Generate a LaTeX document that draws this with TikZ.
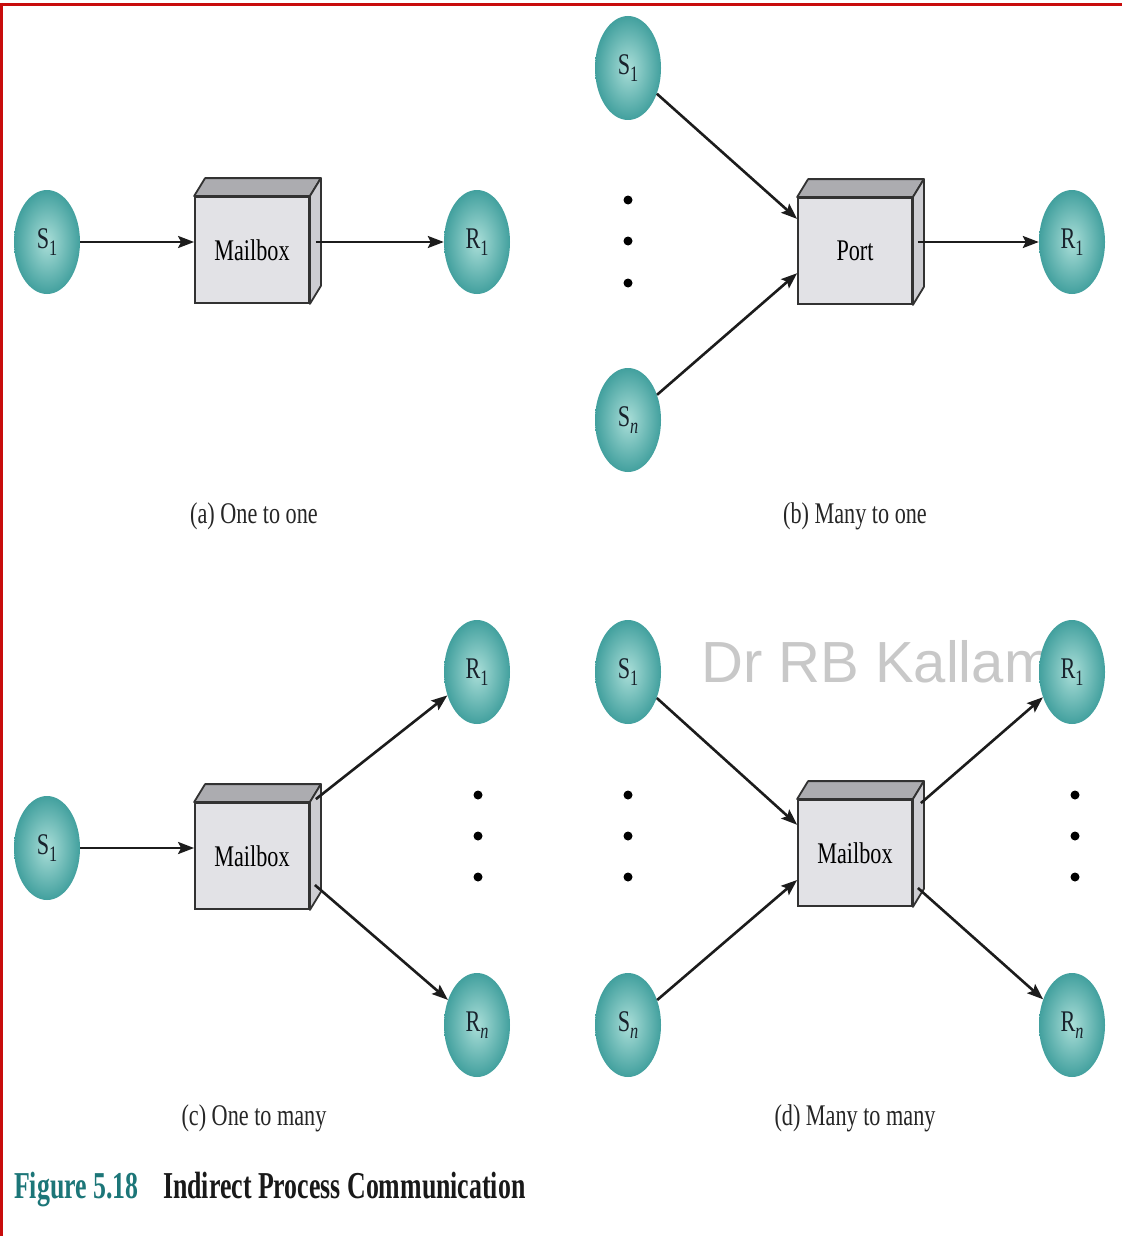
\documentclass[tikz,border=0pt]{standalone}
\usepackage{fontspec}
\setmainfont{Liberation Serif}[FakeStretch=0.74]
\newfontfamily\capserif{Liberation Serif}[FakeStretch=0.68]
\newfontfamily\wmfont{Liberation Sans}
\usetikzlibrary{shapes.geometric,arrows.meta,calc}

\definecolor{tealdk}{RGB}{66,160,158}
\definecolor{teallt}{RGB}{170,222,216}
\definecolor{procink}{RGB}{25,35,45}
\definecolor{boxfront}{RGB}{226,226,230}
\definecolor{boxtop}{RGB}{172,172,176}
\definecolor{boxright}{RGB}{205,205,210}
\definecolor{boxedge}{RGB}{50,50,50}
\definecolor{arrowink}{RGB}{28,28,28}
\definecolor{figteal}{RGB}{28,118,120}
\definecolor{frame}{RGB}{200,12,12}
\definecolor{wmgray}{RGB}{200,200,200}

\newcommand\dfont{\fontsize{30}{34}\selectfont}
\newcommand\figfont{\capserif\bfseries\fontsize{38}{42}\selectfont}
% lowered subscript, a little larger than \textsubscript
\newcommand\idx[1]{\raisebox{-7pt}{\fontsize{22}{24}\selectfont #1}}

% top and right faces of a 3-D box whose front face is node #1
\newcommand\cubefaces[1]{%
  \filldraw[face, fill=boxtop] (#1.north west) -- ++(11,-18)
      -- ($(#1.north east)+(11,-18)$) -- (#1.north east) -- cycle;
  \filldraw[face, fill=boxright] (#1.north east) -- ($(#1.north east)+(11,-18)$)
      -- ($(#1.south east)+(11,-18)$) -- (#1.south east) -- cycle;
}

\tikzset{
  proc/.style={ellipse, minimum width=66pt, minimum height=104pt, inner sep=0pt,
    inner color=teallt, outer color=tealdk, font=\dfont, text=procink},
  mbox/.style={rectangle, minimum width=114pt, minimum height=106pt, inner sep=0pt,
    fill=boxfront, draw=boxedge, line width=1.8pt, font=\dfont},
  face/.style={draw=boxedge, line width=1.8pt, line join=round},
  arr/.style={draw=arrowink, line width=2.6pt,
    -{Stealth[length=16pt,width=12pt,inset=3pt]}},
  blob/.style={circle, fill=black, minimum size=9pt, inner sep=0pt},
  sub/.style={font=\dfont, text=black!85}
}

\begin{document}
\begin{tikzpicture}[x=1pt,y=-1pt]
\useasboundingbox (0,0) rectangle (1122,1236);
\fill[white] (0,0) rectangle (1122,1236);

% frame lines
\draw[frame, line width=3pt] (0,4.5) -- (1122,4.5);
\draw[frame, line width=3pt] (1.5,3) -- (1.5,1236);

% watermark
\node[anchor=west, font=\wmfont\fontsize{58}{60}\selectfont, text=wmgray, inner sep=0pt]
  (wm) at (701,662) {Dr RB Kallam};

% (a) one to one
\node[proc] (a-s1) at (47,242) {S\idx{1}};
\node[mbox] (a-mb) at (252,250) {Mailbox};
\cubefaces{a-mb}
\node[proc] (a-r1) at (477,242) {R\idx{1}};
\draw[arr] (a-s1) -- (a-s1 -| a-mb.west);
\draw[arr] ($(a-mb.east |- a-r1)+(6,0)$) -- (a-r1);
\node[sub] (a-cap) at (254,516) {(a) One to one};

% (b) many to one
\node[proc] (b-s1) at (628,68) {S\idx{1}};
\node[proc] (b-sn) at (628,420) {S\idx{\itshape n}};
\node[blob] (b-d1) at (628,200) {};
\node[blob] (b-d2) at (628,241) {};
\node[blob] (b-d3) at (628,283) {};
\node[mbox] (b-port) at (855,251) {Port};
\cubefaces{b-port}
\node[proc] (b-r1) at (1072,242) {R\idx{1}};
\draw[arr] (b-s1) -- (b-port.151);
\draw[arr] (b-sn) -- (b-port.201);
\draw[arr] ($(b-port.east |- b-r1)+(5,0)$) -- (b-r1);
\node[sub] (b-cap) at (855,516) {(b) Many to one};

% (c) one to many
\node[proc] (c-s1) at (47,848) {S\idx{1}};
\node[mbox] (c-mb) at (252,856) {Mailbox};
\cubefaces{c-mb}
\node[proc] (c-r1) at (477,672) {R\idx{1}};
\node[proc] (c-rn) at (477,1025) {R\idx{\itshape n}};
\node[blob] (c-d1) at (478,795) {};
\node[blob] (c-d2) at (478,836) {};
\node[blob] (c-d3) at (478,877) {};
\draw[arr] (c-s1) -- (c-s1 -| c-mb.west);
\draw[arr] ($(c-mb.north east)+(6,-3)$) -- (c-r1);
\draw[arr] ($(c-mb.east)+(5,29)$) -- (c-rn);
\node[sub] (c-cap) at (254,1118) {(c) One to many};

% (d) many to many
\node[proc] (d-s1) at (628,672) {S\idx{1}};
\node[proc] (d-sn) at (628,1025) {S\idx{\itshape n}};
\node[blob] (d-d1) at (628,795) {};
\node[blob] (d-d2) at (628,836) {};
\node[blob] (d-d3) at (628,877) {};
\node[mbox] (d-mb) at (855,853) {Mailbox};
\cubefaces{d-mb}
\node[proc] (d-r1) at (1072,672) {R\idx{1}};
\node[proc] (d-rn) at (1072,1025) {R\idx{\itshape n}};
\node[blob] (d-e1) at (1075,795) {};
\node[blob] (d-e2) at (1075,836) {};
\node[blob] (d-e3) at (1075,877) {};
\draw[arr] (d-s1) -- (d-mb.154);
\draw[arr] (d-sn) -- (d-mb.205);
\draw[arr] ($(d-mb.north east)+(8,4)$) -- (d-r1);
\draw[arr] ($(d-mb.east)+(5,35)$) -- (d-rn);
\node[sub] (d-cap) at (855,1118) {(d) Many to many};

% figure caption
\node[anchor=base west, inner sep=0pt, font=\figfont, text=figteal]
  (fig-no) at (14,1198) {Figure 5.18};
\node[anchor=base west, inner sep=0pt, font=\figfont, text=black!90]
  (fig-title) at (163,1198) {Indirect Process Communication};
\end{tikzpicture}
\end{document}
